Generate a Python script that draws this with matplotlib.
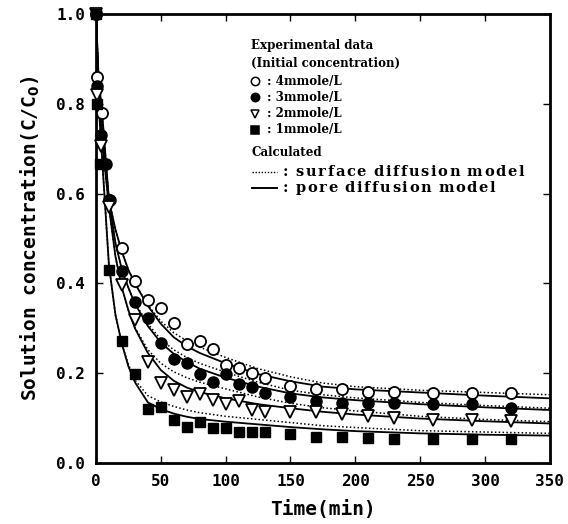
import numpy as np
import matplotlib
matplotlib.use("Agg")
import matplotlib.pyplot as plt

t_4mm = [0, 1, 5, 10, 20, 30, 40, 50, 60, 70, 80, 90, 100, 110, 120, 130,
         150, 170, 190, 210, 230, 260, 290, 320]
c_4mm = [1.0, 0.86, 0.78, 0.585, 0.478, 0.405, 0.363, 0.345, 0.312, 0.265,
         0.271, 0.253, 0.218, 0.211, 0.200, 0.189, 0.171, 0.164, 0.164, 0.159,
         0.159, 0.157, 0.157, 0.155]

t_3mm = [0, 1, 4, 8, 11, 20, 30, 40, 50, 60, 70, 80, 90, 100, 110, 120, 130,
         150, 170, 190, 210, 230, 260, 290, 320]
c_3mm = [1.0, 0.84, 0.73, 0.665, 0.585, 0.428, 0.359, 0.324, 0.268, 0.231,
         0.222, 0.199, 0.181, 0.198, 0.175, 0.169, 0.155, 0.148, 0.137, 0.134,
         0.133, 0.134, 0.131, 0.131, 0.123]

t_2mm = [0, 1, 4, 10, 20, 30, 40, 50, 60, 70, 80, 90, 100, 110, 120, 130,
         150, 170, 190, 210, 230, 260, 290, 320]
c_2mm = [1.0, 0.82, 0.705, 0.57, 0.396, 0.318, 0.226, 0.178, 0.163, 0.148,
         0.154, 0.140, 0.131, 0.139, 0.118, 0.114, 0.114, 0.114, 0.110, 0.105,
         0.100, 0.096, 0.096, 0.094]

t_1mm = [0, 1, 3, 10, 20, 30, 40, 50, 60, 70, 80, 90, 100, 110, 120, 130,
         150, 170, 190, 210, 230, 260, 290, 320]
c_1mm = [1.0, 0.80, 0.665, 0.43, 0.272, 0.198, 0.120, 0.125, 0.096, 0.080,
         0.092, 0.077, 0.077, 0.068, 0.070, 0.068, 0.065, 0.059, 0.057, 0.055,
         0.053, 0.053, 0.053, 0.053]

# ── calculated curves ─────────────────────────────────────────────────────────
t_calc = [0, 2, 5, 10, 15, 20, 25, 30, 40, 50, 60, 70, 80, 100, 125, 150,
          175, 200, 250, 300, 350]

pore_4mm = [1.0, 0.86, 0.77, 0.585, 0.52, 0.47, 0.43, 0.40, 0.35, 0.31, 0.28,
            0.26, 0.245, 0.222, 0.198, 0.182, 0.170, 0.164, 0.157, 0.150, 0.144]
surf_4mm = [1.0, 0.86, 0.77, 0.585, 0.52, 0.47, 0.43, 0.40, 0.352, 0.316, 0.29,
            0.272, 0.258, 0.235, 0.21, 0.192, 0.178, 0.170, 0.162, 0.157, 0.152]

pore_3mm = [1.0, 0.84, 0.74, 0.585, 0.49, 0.43, 0.39, 0.355, 0.305, 0.268,
            0.243, 0.225, 0.21, 0.19, 0.17, 0.155, 0.146, 0.140, 0.131, 0.124,
            0.118]
surf_3mm = [1.0, 0.84, 0.74, 0.585, 0.49, 0.43, 0.39, 0.357, 0.31, 0.275,
            0.252, 0.235, 0.222, 0.202, 0.18, 0.162, 0.152, 0.145, 0.135, 0.128,
            0.122]

pore_2mm = [1.0, 0.82, 0.71, 0.57, 0.46, 0.39, 0.34, 0.30, 0.245, 0.207,
            0.183, 0.168, 0.158, 0.144, 0.131, 0.122, 0.114, 0.108, 0.099,
            0.093, 0.088]
surf_2mm = [1.0, 0.82, 0.71, 0.57, 0.46, 0.39, 0.34, 0.302, 0.252, 0.222,
            0.203, 0.19, 0.18, 0.165, 0.147, 0.133, 0.123, 0.116, 0.104, 0.097,
            0.092]

pore_1mm = [1.0, 0.80, 0.665, 0.44, 0.33, 0.265, 0.215, 0.18, 0.135, 0.12,
            0.11, 0.103, 0.098, 0.092, 0.086, 0.080, 0.075, 0.071, 0.066,
            0.063, 0.061]
surf_1mm = [1.0, 0.80, 0.665, 0.44, 0.33, 0.265, 0.22, 0.185, 0.15, 0.136,
            0.126, 0.118, 0.112, 0.104, 0.097, 0.090, 0.083, 0.079, 0.072,
            0.069, 0.066]

xticks = [0, 50, 100, 150, 200, 250, 300, 350]
yticks = [0.0, 0.2, 0.4, 0.6, 0.8, 1.0]

MONO = "DejaVu Sans Mono"
SERIF = "DejaVu Serif"
W, H = 568, 524

fig = plt.figure(figsize=(W / 100, H / 100), dpi=100)
ax = fig.add_axes([0.169, 0.1164, 0.799, 0.857])

# model curves
for surf, pore in ((surf_4mm, pore_4mm), (surf_3mm, pore_3mm),
                   (surf_2mm, pore_2mm), (surf_1mm, pore_1mm)):
    ax.plot(t_calc, surf, color="k", lw=1.1, ls=(0, (1, 1.5)))
    ax.plot(t_calc, pore, color="k", lw=1.3)

# experimental points
ms = 8
pkw = dict(ls="none", ms=ms, mec="k", clip_on=False, zorder=3)
ax.plot(t_4mm, c_4mm, marker="o", mfc="white", mew=1.3, **pkw)
ax.plot(t_3mm, c_3mm, marker="o", mfc="k", **pkw)
ax.plot(t_2mm, c_2mm, marker="v", mfc="white", mew=1.3, **pkw)
ax.plot(t_1mm, c_1mm, marker="s", mfc="k", **{**pkw, "ms": ms - 1})

ax.set_xlim(0, 350)
ax.set_ylim(0, 1.0)
ax.set_xticks(xticks)
ax.set_yticks(yticks)
ax.set_xticklabels([str(v) for v in xticks], fontfamily=MONO, fontweight="bold", fontsize=11.5)
ax.set_yticklabels([f"{v:.1f}" for v in yticks], fontfamily=MONO, fontweight="bold", fontsize=11.5)
ax.tick_params(direction="in", top=True, right=True, length=5, width=1, pad=8)
for sp in ax.spines.values():
    sp.set_linewidth(2)

ax.set_xlabel("Time(min)", fontfamily=MONO, fontweight="bold", fontsize=14, labelpad=8)
ax.set_ylabel("Solution concentration(C/C$_\\mathbf{0}$)", fontfamily=MONO,
              fontweight="bold", fontsize=14, labelpad=10)

# ── legend block drawn by hand (positions in reference pixels) ────────────────
tkw = dict(fontfamily=SERIF, fontweight="bold", fontsize=8.6, va="center", ha="left")


def fig_text(px, py, s, **kw):
    return fig.text(px / W, 1 - py / H, s, **{**tkw, **kw})


def spaced_text(px, py, s, track, size):
    # the calculated-model lines are typed wider than the rest of the key
    renderer = fig.canvas.get_renderer()
    x = px
    for ch in s:
        t = fig_text(x, py, ch, fontsize=size)
        x += t.get_window_extent(renderer).width + (track if ch != " " else 0.5)


fig_text(251, 46, "Experimental data")
fig_text(251, 63, "(Initial concentration)")

entries = [("o", "white", ": 4mmole/L", 81),
           ("o", "k", ": 3mmole/L", 97),
           ("v", "white", ": 2mmole/L", 114),
           ("s", "k", ": 1mmole/L", 130)]
for mk, fc, lab, py in entries:
    fig.lines.append(plt.Line2D([255 / W], [1 - py / H], marker=mk, ms=6, mfc=fc,
                                mec="k", mew=1.1, transform=fig.transFigure))
    fig_text(267, py, lab)

fig_text(251, 153, "Calculated")
for ls, lw, lab, py in (((0, (1, 1.2)), 1.0, ": surface diffusion model", 172),
                        ("-", 1.4, ": pore diffusion model", 188)):
    fig.lines.append(plt.Line2D([252 / W, 277 / W], [1 - py / H] * 2, color="k",
                                lw=lw, ls=ls, transform=fig.transFigure))
    spaced_text(283, py, lab, 1.6, 10.5)

plt.savefig("out.png", dpi=100)
